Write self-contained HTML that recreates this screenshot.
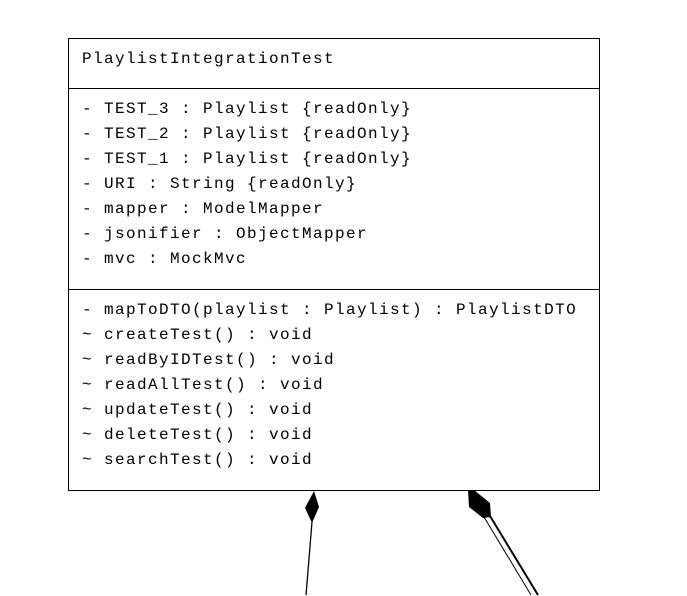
<!DOCTYPE html>
<html><head><meta charset="utf-8"><style>
html,body{margin:0;padding:0;background:#fff;width:687px;height:596px;overflow:hidden}
svg text{font-family:"Liberation Mono",monospace;font-size:16px;letter-spacing:1.4px;fill:#000}
</style></head><body>
<svg width="687" height="596" xmlns="http://www.w3.org/2000/svg">
<rect x="68.5" y="38.5" width="531" height="452" fill="#fff" stroke="#000" stroke-width="1"/>
<line x1="68" y1="88.5" x2="599" y2="88.5" stroke="#000"/>
<line x1="68" y1="289.5" x2="599" y2="289.5" stroke="#000"/>
<text x="82" y="63">PlaylistIntegrationTest</text>
<text x="82" y="113">- TEST_3 : Playlist {readOnly}</text>
<text x="82" y="138">- TEST_2 : Playlist {readOnly}</text>
<text x="82" y="163">- TEST_1 : Playlist {readOnly}</text>
<text x="82" y="188">- URI : String {readOnly}</text>
<text x="82" y="213">- mapper : ModelMapper</text>
<text x="82" y="238">- jsonifier : ObjectMapper</text>
<text x="82" y="263">- mvc : MockMvc</text>
<text x="82" y="314">- mapToDTO(playlist : Playlist) : PlaylistDTO</text>
<text x="82" y="339">~ createTest() : void</text>
<text x="82" y="364">~ readByIDTest() : void</text>
<text x="82" y="389">~ readAllTest() : void</text>
<text x="82" y="414">~ updateTest() : void</text>
<text x="82" y="439">~ deleteTest() : void</text>
<text x="82" y="464">~ searchTest() : void</text>
<polygon points="314,491 319,507 312,523 305,508" fill="#000"/>
<line x1="312" y1="522" x2="306" y2="595" stroke="#000" stroke-width="1.3"/>
<polygon points="468,490 474,490 490,503 491,517 483,518 469,507" fill="#000"/>
<line x1="484" y1="517" x2="531" y2="595" stroke="#000" stroke-width="1"/>
<line x1="490" y1="516" x2="538" y2="595" stroke="#000" stroke-width="2"/>
</svg>
</body></html>
